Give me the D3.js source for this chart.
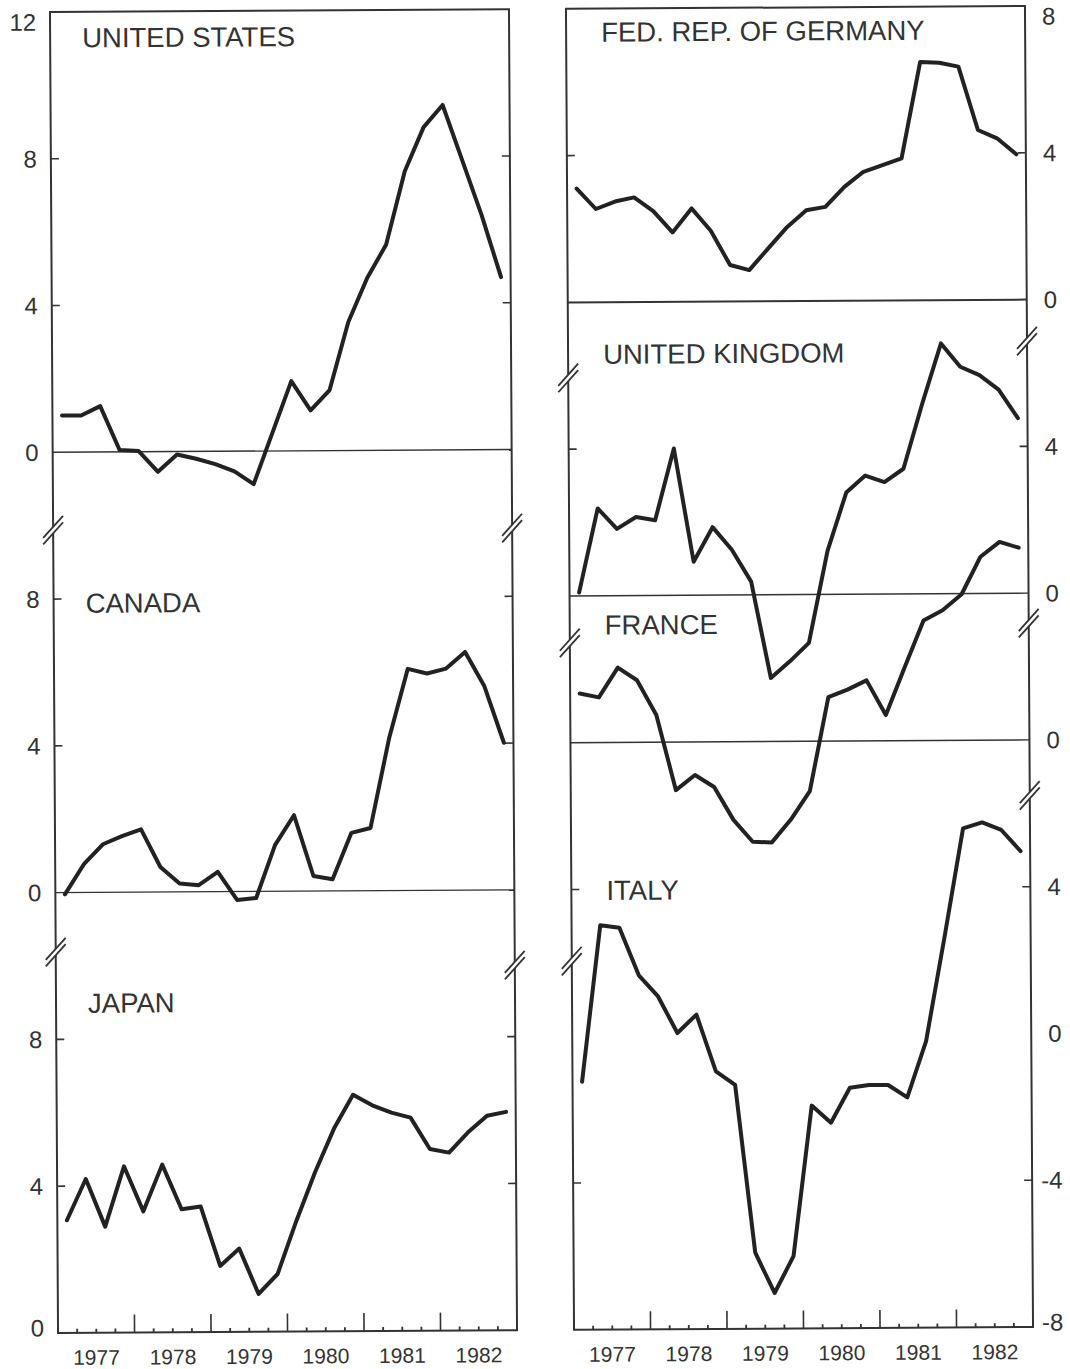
<!DOCTYPE html>
<html>
<head>
<meta charset="utf-8">
<script src="https://cdn.jsdelivr.net/npm/d3@7"></script>
<style>
  html, body { margin: 0; padding: 0; background: #fff; }
  svg { display: block; font-family: "Liberation Sans", Arial, Helvetica, sans-serif; }
</style>
</head>
<body>
<svg id="chart" width="1070" height="1369"></svg>
<script>
// quarterly observations, 1977 Q1 to 1982 Q4
const quarters = ["1977Q1","1977Q2","1977Q3","1977Q4","1978Q1","1978Q2","1978Q3","1978Q4",
                  "1979Q1","1979Q2","1979Q3","1979Q4","1980Q1","1980Q2","1980Q3","1980Q4",
                  "1981Q1","1981Q2","1981Q3","1981Q4","1982Q1","1982Q2","1982Q3","1982Q4"];
const years = ["1977","1978","1979","1980","1981","1982"];

const unitedStates = [1.0, 1.0, 1.25, 0.05, 0.02, -0.55, -0.08, -0.2, -0.35, -0.55, -0.9, 0.5,
                      1.9, 1.1, 1.65, 3.5, 4.7, 5.6, 7.6, 8.8, 9.4, 7.9, 6.4, 4.7];
const canada = [-0.05, 0.77, 1.31, 1.53, 1.71, 0.68, 0.23, 0.18, 0.54, -0.23, -0.18, 1.26,
                2.07, 0.41, 0.32, 1.58, 1.71, 4.15, 6.04, 5.91, 6.04, 6.49, 5.55, 4.01];
const japan = [3.07, 4.19, 2.89, 4.53, 3.3, 4.57, 3.35, 3.42, 1.8, 2.27, 1.03, 1.57,
               3.02, 4.35, 5.53, 6.44, 6.15, 5.95, 5.81, 4.95, 4.85, 5.4, 5.85, 5.95];
const germany = [3.1, 2.54, 2.74, 2.85, 2.47, 1.89, 2.54, 1.93, 0.99, 0.85, 1.44, 2.02,
                 2.47, 2.56, 3.1, 3.51, 3.69, 3.87, 6.49, 6.47, 6.36, 4.63, 4.4, 3.96];
const unitedKingdom = [0.09, 2.38, 1.82, 2.14, 2.05, 4.0, 0.91, 1.85, 1.23, 0.36, -2.27, -1.82,
                       -1.32, 1.18, 2.77, 3.23, 3.05, 3.41, 5.18, 6.82, 6.18, 5.95, 5.55, 4.77];
const france = [1.34, 1.23, 2.04, 1.69, 0.74, -1.31, -0.9, -1.23, -2.13, -2.73, -2.75, -2.13,
                -1.36, 1.2, 1.4, 1.65, 0.7, 2.0, 3.27, 3.55, 3.98, 5.0, 5.4, 5.24];
const italy = [-1.24, 3.02, 2.95, 1.65, 1.07, 0.07, 0.57, -0.98, -1.35, -5.93, -7.03, -6.03,
               -1.93, -2.4, -1.45, -1.38, -1.38, -1.72, -0.19, 2.65, 5.6, 5.76, 5.55, 4.97];

// tick labels per panel
const usLabels = [12, 8, 4, 0];
const canadaLabels = [8, 4, 0];
const japanLabels = [8, 4, 0];
const germanyLabels = [8, 4, 0];
const ukLabels = [4, 0];
const franceLabels = [0];
const italyLabels = [4, 0, -4, -8];

const plotTop = 9, plotBottom = 1330;
const ink = "#222", frameInk = "#333";

const columns = {
    left:  {x0: 54,  x1: 513,  domain: [-24, 12], side: "left"},
    right: {x0: 570, x1: 1029, domain: [-28, 8],  side: "right"}
};

// offset = where the panel's zero sits on the column's continuous scale
const panels = [
    {name: "UNITED STATES", col: "left", values: unitedStates, offset: 0, labels: usLabels, ticks: [8, 4], titleV: 11.03},
    {name: "CANADA", col: "left", values: canada, offset: -12, labels: canadaLabels, ticks: [8, 4], titleV: 7.62, breakL: 9.88, breakR: 9.86},
    {name: "JAPAN", col: "left", values: japan, offset: -24, labels: japanLabels, ticks: [8, 4], titleV: 8.72, breakL: 10.38, breakR: 9.95, base: true},
    {name: "FED. REP. OF GERMANY", col: "right", values: germany, offset: 0, labels: germanyLabels, ticks: [4], titleV: 7.1, heavyZero: true},
    {name: "UNITED KINGDOM", col: "right", values: unitedKingdom, offset: -8, labels: ukLabels, ticks: [4], titleV: 6.32, breakL: 5.94, breakR: 6.87},
    {name: "FRANCE", col: "right", values: france, offset: -12, labels: franceLabels, ticks: [], titleV: 2.94, breakL: 2.72, breakR: 3.18},
    {name: "ITALY", col: "right", values: italy, offset: -20, labels: italyLabels, ticks: [4, -4], titleV: 3.71, breakL: 2.05, breakR: 6.49, base: true}
];

const svg = d3.select("#chart");
svg.append("rect").attr("width", 1070).attr("height", 1369).attr("fill", "#fff");

// the scanned original is turned a little
const root = svg.append("g").attr("transform", "rotate(-0.35 540 670)");

Object.values(columns).forEach(c => {
    c.y = d3.scaleLinear().domain(c.domain).range([plotBottom, plotTop]);
    c.xq = d3.scaleBand().domain(quarters).range([c.x0, c.x1]);
    c.xy = d3.scaleBand().domain(years).range([c.x0, c.x1]);
    c.g = root.append("g");

    c.g.append("rect")
        .attr("x", c.x0).attr("y", plotTop)
        .attr("width", c.x1 - c.x0).attr("height", plotBottom - plotTop)
        .attr("fill", "none").attr("stroke", frameInk).attr("stroke-width", 2);

    // bottom axis: year ticks and quarter ticks, pointing inward
    const axis = c.g.append("g");
    years.slice(1).forEach(yr => {
        axis.append("line")
            .attr("x1", c.xy(yr)).attr("x2", c.xy(yr))
            .attr("y1", plotBottom).attr("y2", plotBottom - 18)
            .attr("stroke", frameInk).attr("stroke-width", 1.6);
    });
    quarters.filter(q => !q.endsWith("Q1")).forEach(q => {
        axis.append("line")
            .attr("x1", c.xq(q)).attr("x2", c.xq(q))
            .attr("y1", plotBottom).attr("y2", plotBottom - 4)
            .attr("stroke", frameInk).attr("stroke-width", 1.8);
    });
    axis.selectAll("text.year")
        .data(years)
        .join("text")
        .attr("class", "year")
        .attr("x", d => c.xy(d) + c.xy.bandwidth() / 2)
        .attr("y", plotBottom + 32)
        .attr("text-anchor", "middle")
        .attr("font-size", 21)
        .attr("fill", frameInk)
        .text(d => d);
});

function drawBreak(g, x, y) {
    g.append("rect")
        .attr("x", x - 2).attr("y", y - 3)
        .attr("width", 4).attr("height", 6)
        .attr("fill", "#fff");
    [-3.2, 3.2].forEach(d => {
        g.append("line")
            .attr("x1", x - 10).attr("y1", y + d + 11)
            .attr("x2", x + 10).attr("y2", y + d - 11)
            .attr("stroke", frameInk).attr("stroke-width", 1.8);
    });
}

panels.forEach(p => {
    const c = columns[p.col];
    const y = v => c.y(v + p.offset);
    const g = c.g.append("g");

    // zero line across the panel
    if (!p.base) {
        g.append("line")
            .attr("x1", c.x0).attr("x2", c.x1)
            .attr("y1", y(0)).attr("y2", y(0))
            .attr("stroke", frameInk)
            .attr("stroke-width", p.heavyZero ? 2 : 1.4);
    }

    // inward ticks on both sides
    p.ticks.forEach(t => {
        [[c.x0, c.x0 + 8], [c.x1, c.x1 - 8]].forEach(([a, b]) => {
            g.append("line")
                .attr("x1", a).attr("x2", b)
                .attr("y1", y(t)).attr("y2", y(t))
                .attr("stroke", frameInk).attr("stroke-width", 1.6);
        });
    });

    // value labels
    p.labels.forEach(v => {
        const cy = Math.max(19, Math.min(1325, y(v)));
        const t = g.append("text")
            .attr("y", cy + 8.5)
            .attr("font-size", 24)
            .attr("fill", frameInk)
            .text(v);
        if (c.side === "left") {
            t.attr("x", c.x0 - 14).attr("text-anchor", "end");
        } else {
            t.attr("x", c.x1 + 17 - (v < 0 ? 8 : 0)).attr("text-anchor", "start");
        }
    });

    if (p.breakL !== undefined) drawBreak(g, c.x0, y(p.breakL));
    if (p.breakR !== undefined) drawBreak(g, c.x1, y(p.breakR));

    g.append("text")
        .attr("x", c.x0 + (c.side === "left" ? 32 : 35))
        .attr("y", y(p.titleV))
        .attr("font-size", 27.5)
        .attr("fill", frameInk)
        .text(p.name);

    const line = d3.line()
        .x((d, i) => c.xq(quarters[i]) + c.xq.bandwidth() / 2)
        .y(d => y(d));

    g.append("path")
        .datum(p.values)
        .attr("d", line)
        .attr("fill", "none")
        .attr("stroke", ink)
        .attr("stroke-width", 4)
        .attr("stroke-linejoin", "round")
        .attr("stroke-linecap", "round");
});
</script>
</body>
</html>
